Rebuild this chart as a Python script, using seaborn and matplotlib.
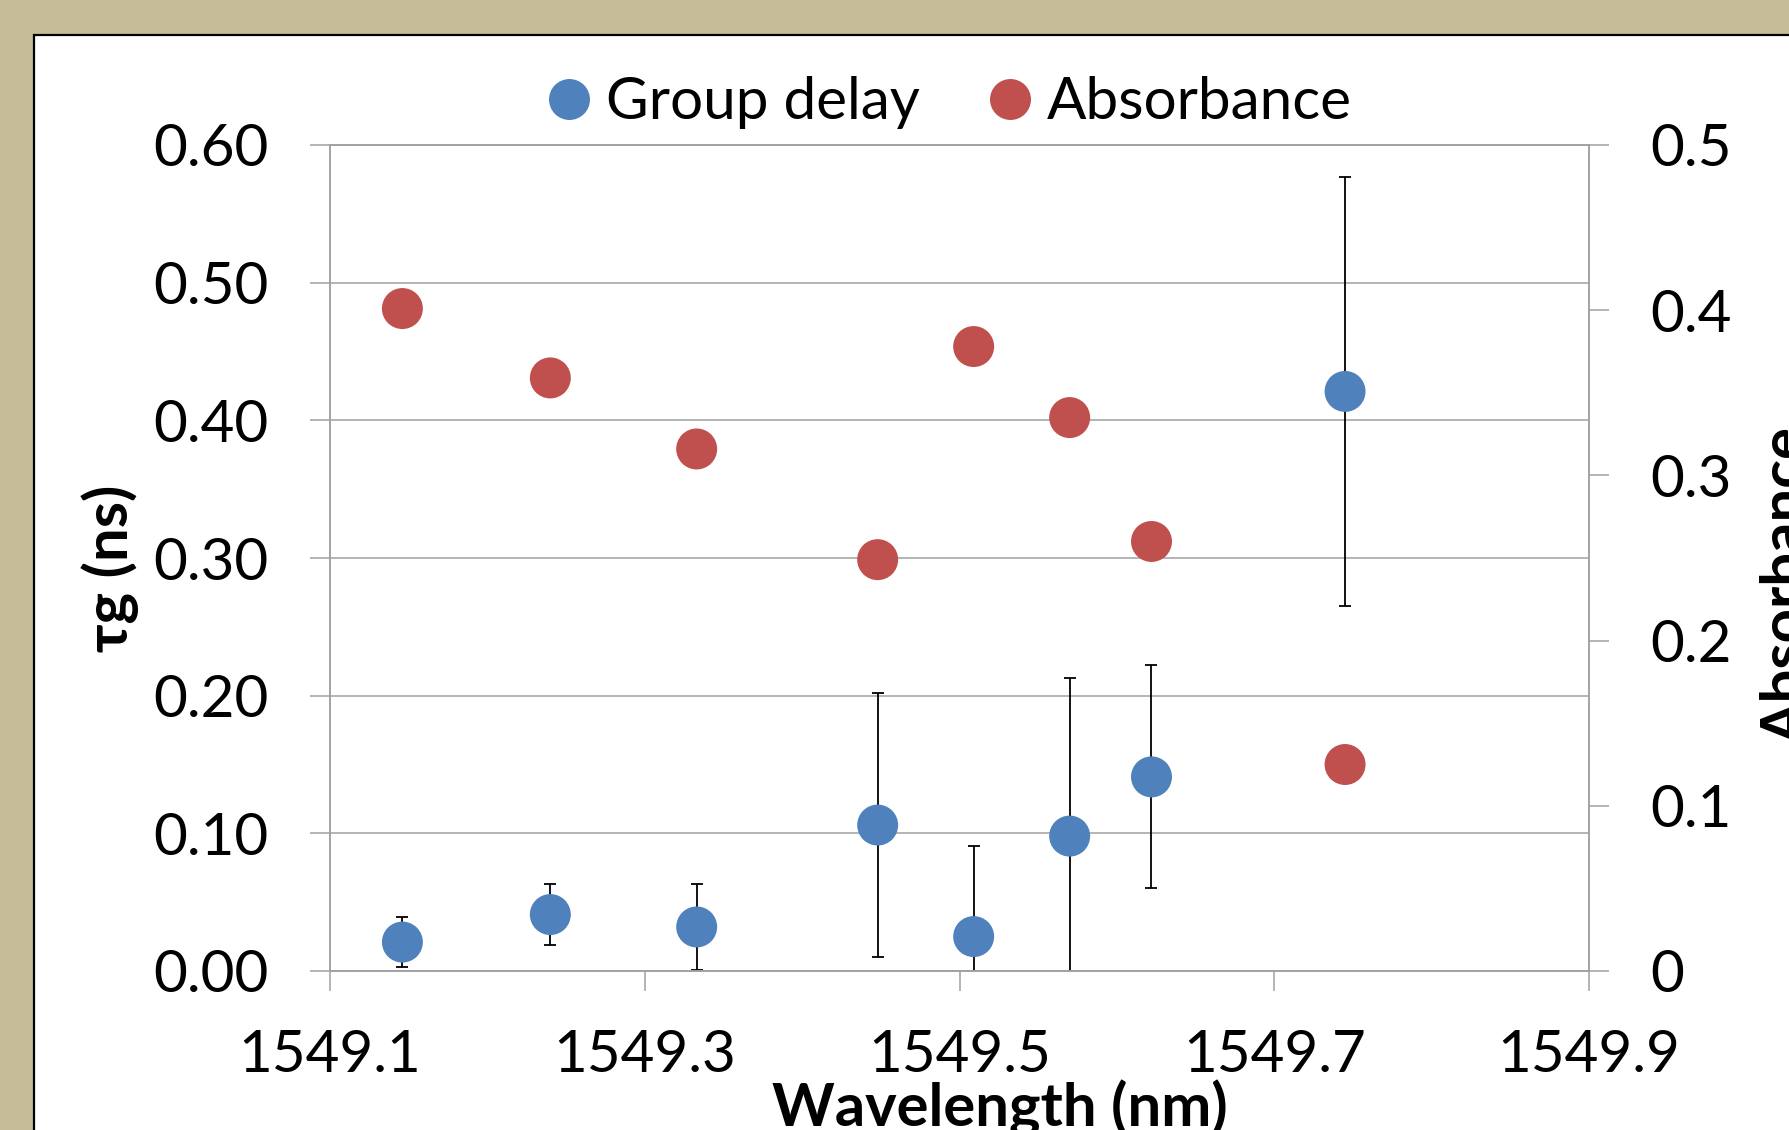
import matplotlib
matplotlib.use("Agg")
import matplotlib.pyplot as plt
from matplotlib.patches import Rectangle
from matplotlib.lines import Line2D
import pandas as pd
import seaborn as sns

# Measured points
wavelength = [1549.146, 1549.240, 1549.333, 1549.448, 1549.509, 1549.570, 1549.622, 1549.745]
group_delay = [0.021, 0.041, 0.032, 0.106, 0.025, 0.098, 0.141, 0.421]
group_delay_err = [0.018, 0.022, 0.031, 0.096, 0.066, 0.115, 0.081, 0.156]
absorbance = [0.401, 0.359, 0.316, 0.249, 0.378, 0.335, 0.260, 0.125]

# Axis ticks
x_ticks = [1549.1, 1549.3, 1549.5, 1549.7, 1549.9]
x_labels = ["1549.1", "1549.3", "1549.5", "1549.7", "1549.9"]
left_ticks = [0.0, 0.1, 0.2, 0.3, 0.4, 0.5, 0.6]
left_labels = ["0.00", "0.10", "0.20", "0.30", "0.40", "0.50", "0.60"]
right_ticks = [0.0, 0.1, 0.2, 0.3, 0.4, 0.5]
right_labels = ["0", "0.1", "0.2", "0.3", "0.4", "0.5"]

df = pd.DataFrame({"wavelength": wavelength, "group_delay": group_delay,
                   "err": group_delay_err, "absorbance": absorbance})

sns.set_theme(style="white")
plt.rcParams["font.family"] = ["Lato", "DejaVu Sans"]
plt.rcParams["text.color"] = "black"

BLUE = "#4F81BD"
RED = "#C0504D"
GRID = "#A0A0A0"
FS = 42
FS_TITLE = 43

W, H = 1789, 1130
fig = plt.figure(figsize=(W / 100, H / 100), dpi=100, facecolor="#C4BD97")

# White chart panel with black border
fig.patches.append(Rectangle((34 / W, -0.2), 1.2, 1.2 - 35 / H, transform=fig.transFigure,
                             facecolor="white", edgecolor="black", linewidth=1.6, zorder=-5))

ax = fig.add_axes([330 / W, 1 - 971 / H, (1589 - 330) / W, (971 - 145) / H])
ax.set_facecolor("none")
ax2 = ax.twinx()
ax2.set_facecolor("none")

ax.errorbar(df["wavelength"], df["group_delay"], yerr=df["err"], fmt="none",
            ecolor="black", elinewidth=1.3, capsize=4.3, capthick=1.3, zorder=2)
sns.scatterplot(data=df, x="wavelength", y="group_delay", ax=ax, color=BLUE,
                s=870, edgecolor="none", zorder=3, legend=False)
sns.scatterplot(data=df, x="wavelength", y="absorbance", ax=ax2, color=RED,
                s=870, edgecolor="none", zorder=3, legend=False)

ax.set_xlim(1549.1, 1549.9)
ax.set_ylim(0, 0.6)
ax2.set_ylim(0, 0.5)

ax.set_xticks(x_ticks)
ax.set_xticklabels(x_labels)
ax.set_yticks(left_ticks)
ax.set_yticklabels(left_labels)
ax2.set_yticks(right_ticks)
ax2.set_yticklabels(right_labels)

ax.yaxis.grid(True, color=GRID, linewidth=1.1)
ax.xaxis.grid(False)
ax2.grid(False)
ax.set_axisbelow(True)

for a in (ax, ax2):
    for side in ("left", "right", "bottom", "top"):
        a.spines[side].set_color(GRID)
        a.spines[side].set_linewidth(1.1)
    a.set_xlabel("")
    a.set_ylabel("")

ax.tick_params(axis="x", direction="out", length=14.4, width=1.1, color=GRID,
               pad=27, labelsize=FS, labelcolor="black", bottom=True)
ax.tick_params(axis="y", direction="out", length=14.4, width=1.1, color=GRID,
               pad=30, labelsize=FS, labelcolor="black", left=True)
ax2.tick_params(axis="y", direction="out", length=14.4, width=1.1, color=GRID,
                pad=30, labelsize=FS, labelcolor="black", right=True)

# Axis titles
fig.text(110 / W, 1 - 568 / H, "τg (ns)", rotation=90, ha="center", va="center",
         fontsize=FS_TITLE, fontweight="bold", color="black")
fig.text(1760 / W, 1 - 586 / H, "Absorbance", rotation=90, ha="left", va="center",
         fontsize=FS_TITLE, fontweight="bold", color="black")
fig.text(1000 / W, 1 - 1126 / H, "Wavelength (nm)", ha="center", va="baseline",
         fontsize=FS_TITLE, fontweight="bold", color="black")

# Legend
handles = [
    Line2D([], [], linestyle="none", marker="o", markersize=29.5,
           markerfacecolor=BLUE, markeredgecolor="none", label="Group delay"),
    Line2D([], [], linestyle="none", marker="o", markersize=29.5,
           markerfacecolor=RED, markeredgecolor="none", label="Absorbance"),
]
fig.legend(handles=handles, loc="center", bbox_to_anchor=(949 / W, 1 - 103 / H),
           ncol=2, frameon=False, fontsize=FS, handlelength=0.8, labelcolor="black",
           handletextpad=0.23, columnspacing=1.15, borderpad=0.1)

fig.savefig("out.png", dpi=100, facecolor=fig.get_facecolor())
